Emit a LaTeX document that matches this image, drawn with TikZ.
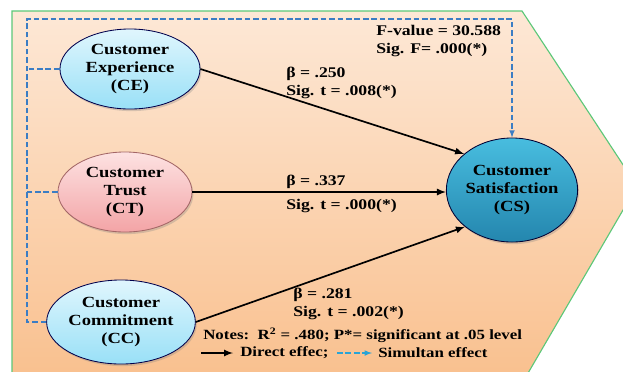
\documentclass[tikz,border=0pt]{standalone}
\usepackage{fontspec}
\setmainfont{Liberation Serif}[FakeStretch=1.2]
\usetikzlibrary{arrows,shapes.geometric,shadows}

\definecolor{bgTop}{HTML}{FDE8D6}
\definecolor{bgBot}{HTML}{F9C08E}
\definecolor{frameGreen}{HTML}{5CC879}
\definecolor{simBlue}{HTML}{3B7DC4}
\definecolor{ceTop}{HTML}{E0F6FD}
\definecolor{ceBot}{HTML}{99E0F7}
\definecolor{ctTop}{HTML}{FDE2E2}
\definecolor{ctBot}{HTML}{F3A4A6}
\definecolor{csTop}{HTML}{48BDDF}
\definecolor{csBot}{HTML}{2486AE}

\begin{document}
\begin{tikzpicture}[x=0.025cm,y=-0.025cm,
  factor/.style={ellipse,draw=black!70!blue,line width=0.6pt,align=center,
    inner sep=0pt,font=\fontsize{11}{12.5}\selectfont\bfseries,
    drop shadow={shadow xshift=1pt,shadow yshift=-1.5pt,opacity=0.3}},
  lbl/.style={inner sep=0pt,align=left,anchor=west,
    font=\fontsize{10.5}{12.5}\selectfont\bfseries},
  note/.style={lbl,font=\fontsize{10}{12}\selectfont\bfseries},
  direct/.style={-latex,line width=1.2pt},
  simul/.style={-latex,simBlue,line width=0.8pt,dash pattern=on 4pt off 2pt}]

\useasboundingbox (0,0) rectangle (623,371);
\clip (0,0) rectangle (623,371);

%background arrow
\path[draw=frameGreen,line width=0.8pt,top color=bgTop,bottom color=bgBot]
  (12,11) -- (522,11) -- (637,186) -- (524,380) -- (12,380) -- cycle;

\node[factor,top color=ceTop,bottom color=ceBot,minimum width=3.5cm,minimum height=2cm] (CE) at (130,69) {Customer\\Experience\\(CE)};
\node[factor,draw=red!40!black!60,top color=ctTop,bottom color=ctBot,minimum width=3.35cm,minimum height=2cm] (CT) at (125,192) {Customer\\Trust\\(CT)};
\node[factor,top color=ceTop,bottom color=ceBot,minimum width=3.2cm,minimum height=2.1cm] (CC) at (121,322) {Customer\\Commitment\\(CC)};
\node[factor,draw=black!80!blue,top color=csTop,bottom color=csBot,minimum width=3.25cm,minimum height=2.6cm] (CS) at (512,190) {Customer\\Satisfaction\\(CS)};

%simultan effect
\coordinate (tl) at (27,19);
\draw[simul] (CC.west) -| (tl) -| (CS.north);
\draw[simul,-] (CE.west) -- (CE.west -| tl);
\draw[simul,-] (CT.west) -- (CT.west -| tl);

%direct effects
\draw[direct] (CE.east) -- (CS.143);
\draw[direct] (CT.east) -- (CT.east -| CS.west);
\draw[direct] (CC.east) -- (CS.218);

\node[lbl] (fval) at (376,41) {F-value = 30.588\\Sig. F= .000(*)};
\node[lbl] (b1) at (286,83) {β = .250\\Sig. t = .008(*)};
\node[lbl] (b2) at (286,182) {β = .337};
\node[lbl] (t2) at (286,206) {Sig. t = .000(*)};
\node[lbl] (b3) at (293,304) {β = .281\\Sig. t = .002(*)};

%notes
\node[note] (notes) at (203,335) {Notes:\ \ R\textsuperscript{2} = .480; P*= significant at .05 level};
\coordinate (d1) at (201,353);
\coordinate (d2) at (233,353);
\draw[direct] (d1) -- (d2);
\node[note] (ldirect) at (240,353) {Direct effec;};
\coordinate (s1) at (337,353);
\coordinate (s2) at (372,353);
\draw[simul,simBlue!70!cyan] (s1) -- (s2);
\node[note] (lsimul) at (378,353) {Simultan effect};

\end{tikzpicture}
\end{document}
